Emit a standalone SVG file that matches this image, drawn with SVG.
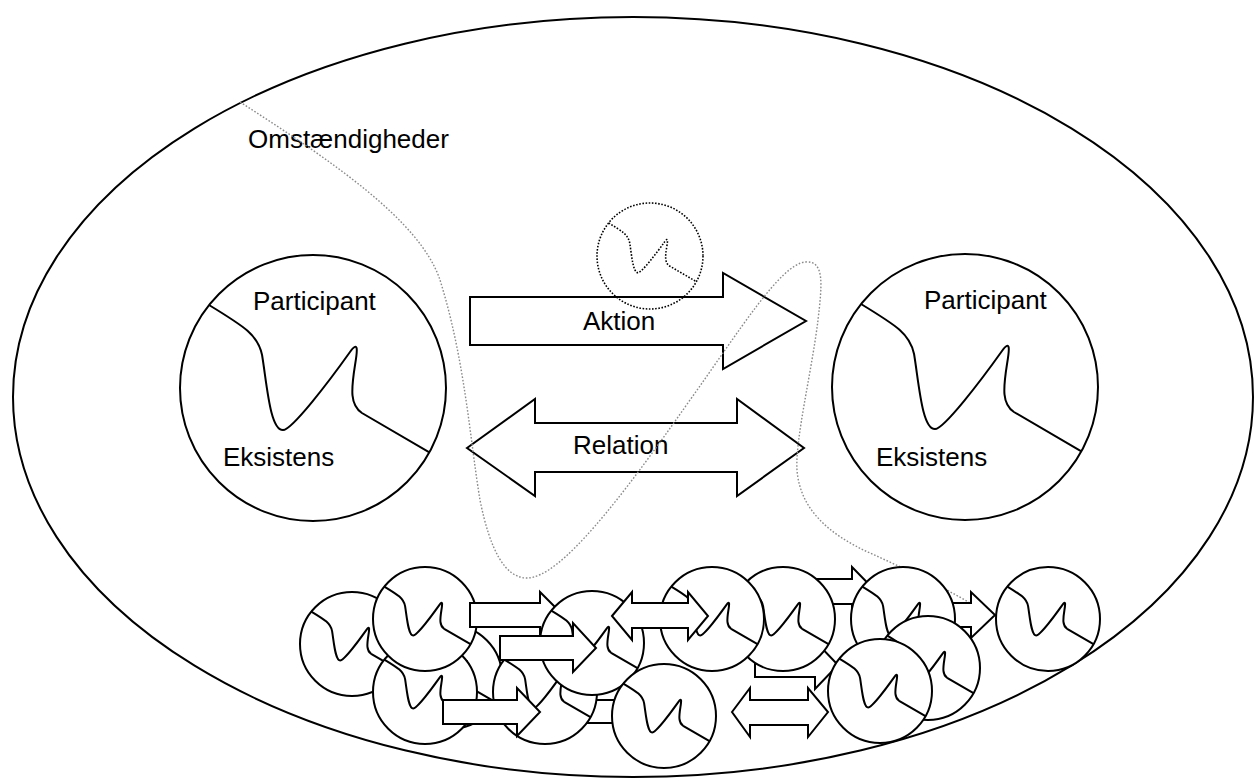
<svg xmlns="http://www.w3.org/2000/svg" width="1254" height="781" viewBox="0 0 1254 781">
<style>
.t{font-family:"Liberation Sans",Arial,sans-serif;font-size:26px;fill:#000}
.ar{fill:#fff;stroke:#000;stroke-width:2;stroke-linejoin:miter}
.big{fill:#fff;stroke:#000;stroke-width:1.5}
.sm{fill:#fff;stroke:#000;stroke-width:3.85}
.dot{fill:none;stroke:#000;stroke-width:3;stroke-dasharray:3 3}
.gray{fill:none;stroke:#8a8a8a;stroke-width:1.4;stroke-dasharray:1.6 1.8}
</style>
<defs>
<g id="pt"><circle r="100"/><path fill="none" d="M -78.2,-62.4 C -51.1,-45.9 -41.4,-39.8 -38.3,-24.8 C -34.6,-2.3 -32.3,31.6 -22.6,31.6 C -15.8,31.6 12.8,-6 27.8,-27.1 C 33.8,-35.3 33.8,-30.1 31.6,-17.3 C 28.6,1.5 27.8,12.8 36.8,18.8 L 87.5,48.4"/></g>
</defs>
<rect width="1254" height="781" fill="#fff"/>
<g id="omstaendigheder">
<ellipse cx="633" cy="397" rx="620" ry="380" fill="none" stroke="#000" stroke-width="2"/>
<text class="t" x="248" y="148">Omstændigheder</text>
</g>
<g id="participant-left">
<use href="#pt" class="big" transform="translate(313,388) scale(1.33)"/>
<text class="t" x="253" y="310">Participant</text>
<text class="t" x="223" y="466">Eksistens</text>
</g>
<g id="participant-right">
<use href="#pt" class="big" transform="translate(965,387) scale(1.33)"/>
<text class="t" x="924" y="309">Participant</text>
<text class="t" x="876" y="466">Eksistens</text>
</g>
<g id="connectors">
<g id="aktion">
<polygon class="ar" points="470,297 723,297 723,273 806,321 723,369 723,345 470,345"/>
<text class="t" x="583" y="330">Aktion</text>
</g>
<g id="relation">
<polygon class="ar" points="467,448 535,399 535,423 737,423 737,399 804,448 737,496 737,472 535,472 535,496"/>
<text class="t" x="573" y="454">Relation</text>
</g>
</g>
<g id="omstaendighed-grense">
<path class="gray" d="M240,102 C330,160 420,220 440,280 C465,360 470,440 480,500 C490,550 505,578 527,578 C560,578 620,500 690,400 C740,330 780,265 805,262 C825,260 822,285 818,320 C812,370 795,440 797,470 C800,510 830,535 870,553 C910,571 950,590 985,612"/>
</g>
<g id="potentiel-participant">
<use href="#pt" class="dot" transform="translate(650,256) scale(0.53)"/>
</g>
<g id="cluster">
<g id="c-a"><use href="#pt" class="sm" transform="translate(352,644) scale(0.52)"/></g>
<g id="c-h"><use href="#pt" class="sm" transform="translate(450,677) scale(0.52)"/></g>
<g id="c-c"><use href="#pt" class="sm" transform="translate(425,692) scale(0.52)"/></g>
<g id="c-b"><use href="#pt" class="sm" transform="translate(425,619) scale(0.52)"/></g>
<g id="a1"><polygon class="ar" points="470,603 540,603 540,592 563,615 540,638 540,627 470,627"/></g>
<g id="a10"><polygon class="ar" points="560,700 640,700 640,688 663,712 640,735 640,723 560,723"/></g>
<g id="a5"><polygon class="ar" points="795,579 852,579 852,567 876,591.5 852,616 852,604 795,604"/></g>
<g id="a6"><polygon class="ar" points="930,603 971,603 971,592 995,615 971,638 971,627 930,627"/></g>
<g id="a9"><polygon class="ar" points="755,653 815,653 815,641 838,665 815,689 815,677 755,677"/></g>
<g id="c-g"><use href="#pt" class="sm" transform="translate(545,692) scale(0.52)"/></g>
<g id="c-e"><use href="#pt" class="sm" transform="translate(592,643) scale(0.52)"/></g>
<g id="c-j"><use href="#pt" class="sm" transform="translate(783,619) scale(0.52)"/></g>
<g id="c-i"><use href="#pt" class="sm" transform="translate(712,619) scale(0.52)"/></g>
<g id="a2"><polygon class="ar" points="500,636 573,636 573,623 596,648 573,672 573,660 500,660"/></g>
<g id="a3"><polygon class="ar" points="443,700 517,700 517,688 540,712 517,736 517,724 443,724"/></g>
<g id="a4"><polygon class="ar" points="612,616 632,592 632,603 688,603 688,592 708,616 688,640 688,628 632,628 632,640"/></g>
<g id="c-f"><use href="#pt" class="sm" transform="translate(664,716) scale(0.52)"/></g>
<g id="c-k"><use href="#pt" class="sm" transform="translate(903,619) scale(0.52)"/></g>
<g id="c-l"><use href="#pt" class="sm" transform="translate(928,668) scale(0.52)"/></g>
<g id="c-m"><use href="#pt" class="sm" transform="translate(880,691) scale(0.52)"/></g>
<g id="a7"><polygon class="ar" points="732,712 750,688 750,700 808,700 808,688 828,712 808,737 808,725 750,725 750,737"/></g>
<g id="c-n"><use href="#pt" class="sm" transform="translate(1048,619) scale(0.52)"/></g>
</g>
</svg>
